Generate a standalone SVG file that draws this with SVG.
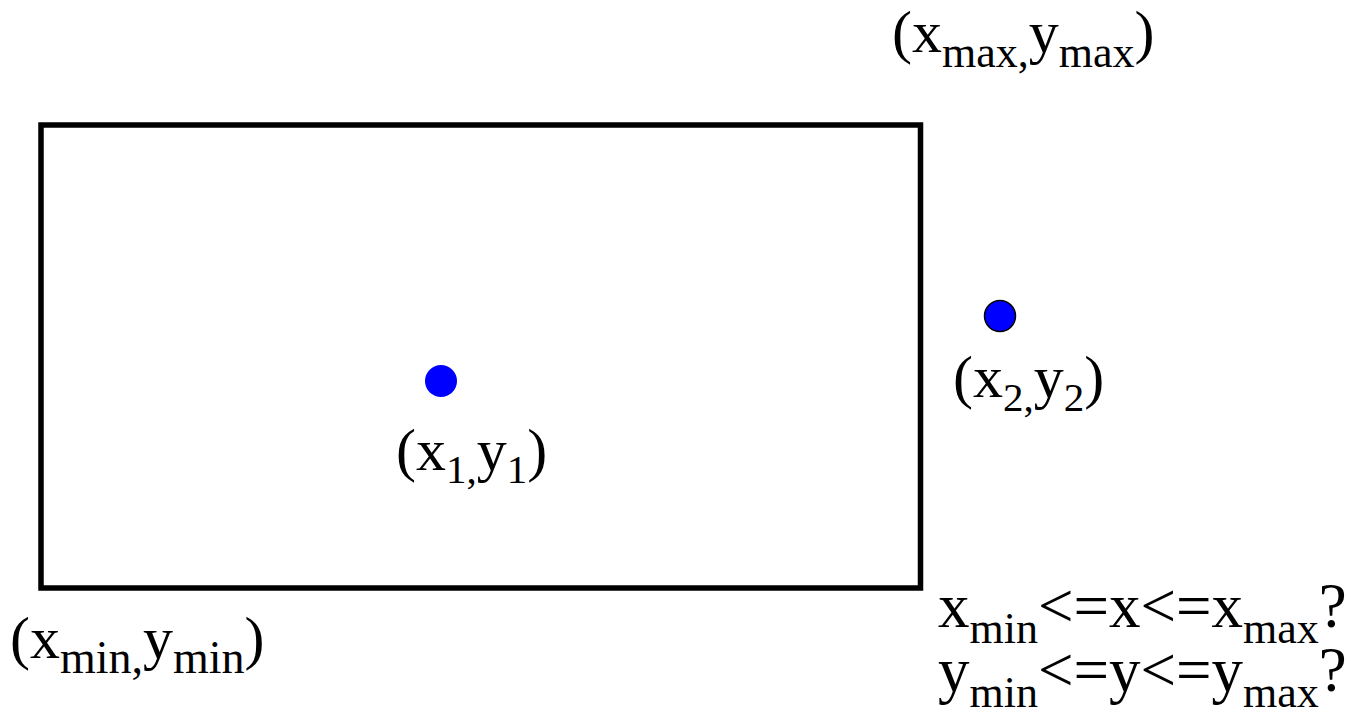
<svg xmlns="http://www.w3.org/2000/svg" width="1360" height="725" viewBox="0 0 1360 725">
<style>
text{font-family:"Liberation Serif","Times New Roman",serif;font-size:60px;fill:#000}
.s{font-size:44px}
.s2{font-size:46px}
.big{font-size:63px}
.dot{fill:#0000ff}
</style>
<rect width="1360" height="725" fill="#fff"/>
<g id="rect"><rect x="41" y="125" width="879.5" height="463" fill="none" stroke="#000" stroke-width="5.5"/></g>
<g id="p1"><circle class="dot" cx="441" cy="381" r="16"/></g>
<g id="p2"><circle class="dot" cx="1000" cy="316" r="15.5" stroke="#000" stroke-width="1.5"/></g>
<g id="lbl-max"><text x="892" y="52">(x<tspan class="s" dy="15">max,</tspan><tspan dy="-15">y</tspan><tspan class="s" dy="15">max</tspan><tspan dy="-15">)</tspan></text></g>
<g id="lbl-min"><text x="10" y="658">(x<tspan class="s2" dy="15">min,</tspan><tspan dy="-15">y</tspan><tspan class="s2" dy="15">min</tspan><tspan dy="-15">)</tspan></text></g>
<g id="lbl-1"><text x="396" y="470">(x<tspan style="font-size:41px" dy="13">1,</tspan><tspan dy="-13">y</tspan><tspan style="font-size:41px" dy="13">1</tspan><tspan dy="-13">)</tspan></text></g>
<g id="lbl-2"><text x="953" y="397">(x<tspan style="font-size:41px" dy="14">2,</tspan><tspan dy="-14">y</tspan><tspan style="font-size:41px" dy="14">2</tspan><tspan dy="-14">)</tspan></text></g>
<g id="cond-x"><text class="big" x="938" y="627">x<tspan class="s" dy="16">min</tspan><tspan dy="-16">&lt;=x&lt;=x</tspan><tspan class="s" dy="16">max</tspan><tspan dy="-16">?</tspan></text></g>
<g id="cond-y"><text class="big" x="938" y="691">y<tspan class="s" dy="16">min</tspan><tspan dy="-16">&lt;=y&lt;=y</tspan><tspan class="s" dy="16">max</tspan><tspan dy="-16">?</tspan></text></g>
</svg>
